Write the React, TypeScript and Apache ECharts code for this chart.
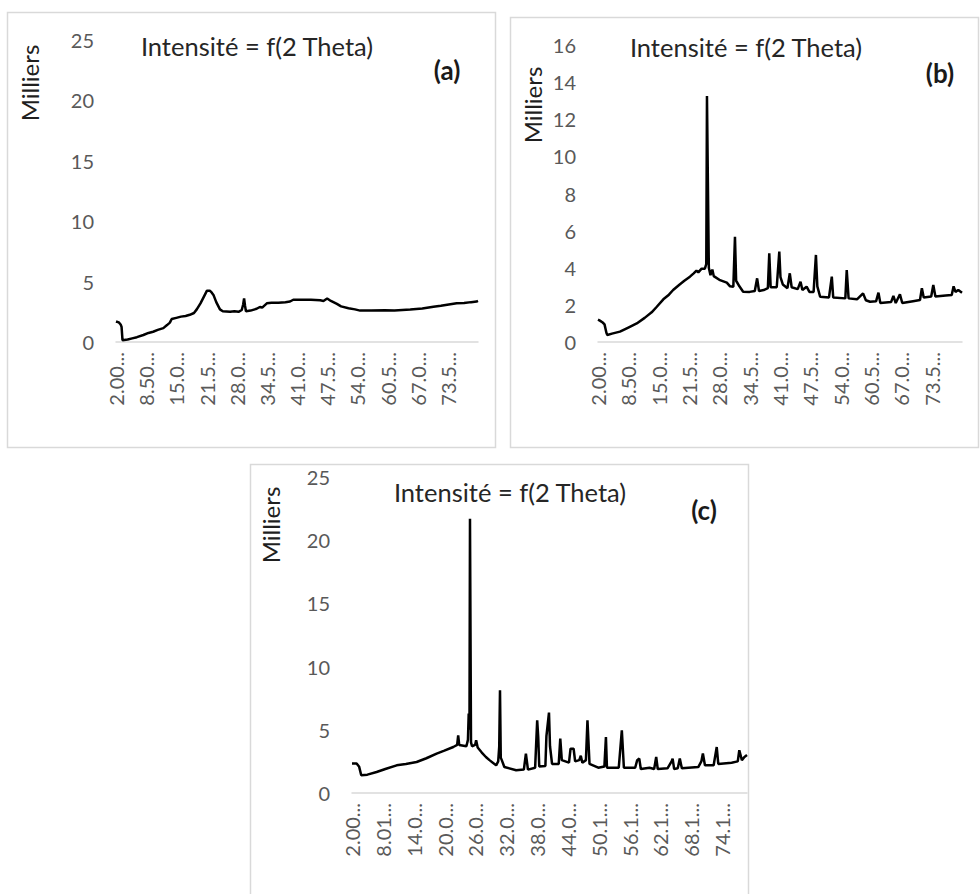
import React, { useEffect, useRef } from "react";
import * as echarts from "echarts";

// 2θ (deg) vs intensity (milliers)
const SERIES_A: [number, number][] = [
  [2.0, 1.7], [2.6, 1.62], [3.0, 1.45], [3.2, 1.25], [3.4, 0.15], [4.5, 0.2], [5.5, 0.3], [6.5, 0.4],
  [7.9, 0.58], [9.0, 0.75], [10.0, 0.85], [11.0, 1.0], [12.2, 1.15], [13.0, 1.4], [13.6, 1.6], [14.0, 1.9],
  [15.0, 2.0], [16.0, 2.1], [17.0, 2.15], [17.9, 2.25], [18.8, 2.4], [19.4, 2.7], [20.2, 3.2], [21.0, 3.8],
  [21.6, 4.25], [22.2, 4.25], [22.6, 4.1], [23.0, 3.9], [23.6, 3.3], [24.4, 2.7], [25.0, 2.55], [26.6, 2.5],
  [27.5, 2.55], [28.4, 2.5], [29.1, 2.65], [29.4, 3.1], [29.6, 3.6], [29.8, 3.0], [30.0, 2.55], [31.0, 2.6],
  [32.3, 2.75], [33.0, 2.9], [33.5, 2.85], [34.5, 3.2], [35.5, 3.25], [37.0, 3.25], [38.5, 3.3], [39.5, 3.35],
  [40.2, 3.5], [42.0, 3.5], [44.0, 3.5], [46.0, 3.45], [46.7, 3.4], [47.5, 3.6], [48.3, 3.4], [49.6, 3.15],
  [50.5, 2.95], [52.1, 2.8], [53.5, 2.7], [54.6, 2.6], [57.0, 2.6], [59.9, 2.62], [62.0, 2.6], [65.4, 2.7],
  [68.0, 2.78], [70.4, 2.92], [72.0, 3.0], [75.4, 3.2], [77.0, 3.22], [78.5, 3.3], [79.7, 3.35], [80.0, 3.4],
];

const SERIES_B: [number, number][] = [
  [2.0, 1.2], [2.4, 1.15], [3.0, 1.05], [3.4, 0.95], [3.8, 0.5], [4.0, 0.38], [5.0, 0.45], [6.7, 0.56],
  [8.5, 0.78], [10.3, 1.0], [12.0, 1.3], [13.5, 1.6], [14.6, 1.9], [16.0, 2.3], [17.2, 2.55], [18.1, 2.8],
  [19.5, 3.1], [20.5, 3.3], [21.7, 3.52], [22.5, 3.7], [23.1, 3.85], [23.5, 3.75], [24.2, 3.95], [24.9, 3.95],
  [25.2, 4.2], [25.35, 13.25], [25.55, 8.6], [25.75, 4.0], [26.1, 3.6], [26.5, 3.9], [26.8, 3.55], [28.0, 3.35],
  [29.6, 3.2], [30.3, 3.0], [31.0, 2.98], [31.35, 5.67], [31.6, 3.3], [32.3, 3.0], [33.1, 2.71], [34.5, 2.7],
  [35.6, 2.75], [36.1, 3.43], [36.5, 2.75], [37.5, 2.8], [38.4, 2.9], [38.7, 4.78], [39.0, 2.95], [40.3, 2.95],
  [40.85, 4.87], [41.1, 3.5], [41.6, 3.1], [42.6, 2.9], [43.1, 3.7], [43.5, 2.95], [44.8, 2.85], [45.4, 3.25],
  [45.8, 2.8], [46.7, 2.98], [47.3, 2.7], [48.2, 2.7], [48.7, 4.69], [49.0, 3.0], [49.6, 2.44], [51.5, 2.4],
  [52.1, 3.52], [52.4, 2.4], [55.0, 2.35], [55.3, 3.88], [55.7, 2.35], [57.5, 2.3], [58.8, 2.62], [59.4, 2.25],
  [60.3, 2.17], [61.6, 2.2], [62.1, 2.66], [62.5, 2.1], [64.8, 2.15], [65.3, 2.48], [65.8, 2.1], [66.7, 2.57],
  [67.2, 2.1], [69.5, 2.2], [71.0, 2.26], [71.4, 2.9], [71.8, 2.4], [73.4, 2.45], [73.85, 3.07], [74.3, 2.45],
  [76.5, 2.5], [77.8, 2.53], [78.2, 3.0], [78.6, 2.7], [79.2, 2.8], [80.0, 2.65],
];

const SERIES_C: [number, number][] = [
  [2.0, 2.33], [2.9, 2.33], [3.4, 2.07], [3.8, 1.4], [5.0, 1.45], [6.8, 1.66], [8.5, 1.9], [10.7, 2.19],
  [12.5, 2.3], [14.6, 2.45], [16.5, 2.75], [18.5, 3.12], [20.0, 3.35], [21.75, 3.64], [22.5, 3.8], [22.7, 4.56],
  [22.9, 3.8], [24.3, 3.7], [24.6, 4.2], [24.75, 6.28], [24.9, 5.0], [25.0, 21.7], [25.2, 4.0], [25.4, 3.7],
  [26.0, 3.8], [26.2, 4.17], [26.5, 3.6], [27.3, 3.2], [28.1, 2.85], [28.8, 2.6], [30.1, 2.19], [30.5, 2.5],
  [30.7, 3.67], [30.85, 8.13], [31.0, 2.8], [31.2, 2.6], [31.7, 2.06], [34.0, 1.8], [35.5, 1.85], [35.9, 3.12],
  [36.3, 1.85], [37.7, 2.0], [38.1, 5.75], [38.3, 4.45], [38.5, 2.1], [39.7, 2.14], [39.9, 4.5], [40.4, 6.36],
  [40.6, 3.7], [41.0, 2.3], [42.3, 2.3], [42.6, 4.3], [42.9, 2.6], [44.3, 2.4], [44.6, 3.5], [45.2, 3.5],
  [45.5, 2.5], [46.3, 2.6], [46.6, 2.95], [46.9, 2.4], [47.6, 2.6], [47.9, 5.75], [48.3, 2.3], [50.0, 2.0],
  [51.2, 2.1], [51.5, 4.43], [51.7, 2.0], [54.0, 2.0], [54.6, 4.96], [55.0, 2.0], [57.2, 2.0], [57.6, 2.6],
  [58.0, 2.72], [58.3, 1.9], [60.0, 2.0], [60.9, 1.9], [61.3, 2.85], [61.6, 1.9], [63.5, 1.95], [64.3, 2.5],
  [64.5, 2.72], [64.8, 1.9], [65.5, 1.95], [65.9, 2.72], [66.3, 1.95], [69.5, 2.05], [70.1, 2.5], [70.4, 3.12],
  [70.8, 2.2], [72.5, 2.2], [73.1, 3.64], [73.4, 2.3], [76.0, 2.4], [77.2, 2.5], [77.5, 3.38], [78.0, 2.6],
  [78.5, 2.85], [79.0, 3.0],
];

const TICKS_AB = [2, 8.5, 15, 21.5, 28, 34.5, 41, 47.5, 54, 60.5, 67, 73.5];
const LABELS_AB = ["2.00...", "8.50...", "15.0...", "21.5...", "28.0...", "34.5...", "41.0...", "47.5...", "54.0...", "60.5...", "67.0...", "73.5..."];
const TICKS_C = [2.0, 8.01, 14.03, 20.04, 26.05, 32.06, 38.08, 44.09, 50.1, 56.11, 62.13, 68.14, 74.15];
const LABELS_C = ["2.00...", "8.01...", "14.0...", "20.0...", "26.0...", "32.0...", "38.0...", "44.0...", "50.1...", "56.1...", "62.1...", "68.1...", "74.1..."];

const TITLE = "Intensité = f(2 Theta)";
const UNIT = "Milliers";
const PANELS = ["(a)", "(b)", "(c)"];

const FONT = "Lato, 'Noto Sans', sans-serif";

export default function App() {
  const ref = useRef<HTMLDivElement>(null);
  useEffect(() => {
    if (!ref.current) return;
    const chart = echarts.init(ref.current, null, { renderer: "svg" });

    const xAxis = (grid: number, ticks: number[], labels: string[], max: number) => ({
      type: "value",
      gridIndex: grid,
      min: 2,
      max,
      axisLine: { show: true, lineStyle: { color: "#d9d9d9", width: 1.5 } },
      axisTick: { show: false },
      splitLine: { show: false },
      axisLabel: {
        rotate: 90,
        margin: 10,
        color: "#595959",
        fontSize: 20,
        fontFamily: FONT,
        customValues: ticks,
        formatter: (v: number) => {
          const i = ticks.findIndex((t) => Math.abs(t - v) < 1e-6);
          return i >= 0 ? labels[i] : "";
        },
      },
    });
    const yAxis = (grid: number, max: number, interval: number) => ({
      type: "value",
      gridIndex: grid,
      min: 0,
      max,
      interval,
      axisLine: { show: false },
      axisTick: { show: false },
      splitLine: { show: false },
      axisLabel: { color: "#595959", fontSize: 20, fontFamily: FONT, margin: 22 },
    });
    const line = (i: number, data: [number, number][]) => ({
      type: "line",
      xAxisIndex: i,
      yAxisIndex: i,
      data,
      showSymbol: false,
      lineStyle: { color: "#000", width: 2.5 },
      itemStyle: { color: "#000" },
    });
    const text = (x: number, y: number, t: string, font: string, fill: string, rotation = 0) => ({
      type: "text",
      x,
      y,
      rotation,
      style: {
        text: t,
        font,
        fill,
        align: "center",
        verticalAlign: "middle",
        textAlign: "center",
        textVerticalAlign: "middle",
      },
    });
    const box = (x1: number, y1: number, x2: number, y2: number) => ({
      type: "rect",
      shape: { x: x1, y: y1, width: x2 - x1, height: y2 - y1 },
      style: { fill: "none", stroke: "#d9d9d9", lineWidth: 1.5 },
      z: -1,
    });

    chart.setOption({
      animation: false,
      backgroundColor: "#fff",
      grid: [
        { left: 116, top: 40, width: 362, height: 302 },
        { left: 598, top: 45, width: 364, height: 297 },
        { left: 352, top: 477, width: 395, height: 316 },
      ],
      xAxis: [
        xAxis(0, TICKS_AB, LABELS_AB, 80),
        xAxis(1, TICKS_AB, LABELS_AB, 80),
        xAxis(2, TICKS_C, LABELS_C, 79),
      ],
      yAxis: [yAxis(0, 25, 5), yAxis(1, 16, 2), yAxis(2, 25, 5)],
      series: [line(0, SERIES_A), line(1, SERIES_B), line(2, SERIES_C)],
      graphic: [
        box(7.5, 12.5, 495.5, 447.5),
        box(510.5, 17.5, 978.5, 447.5),
        box(250.5, 464.5, 748.5, 900),
        text(257, 46, TITLE, `25.5px ${FONT}`, "#262626"),
        text(746, 47, TITLE, `25.5px ${FONT}`, "#262626"),
        text(510, 492, TITLE, `25.5px ${FONT}`, "#262626"),
        text(447, 70, PANELS[0], `bold 26px ${FONT}`, "#1a1a1a"),
        text(940, 73, PANELS[1], `bold 26px ${FONT}`, "#1a1a1a"),
        text(704, 510, PANELS[2], `bold 26px ${FONT}`, "#1a1a1a"),
        text(29, 83, UNIT, `24px ${FONT}`, "#1f1f1f", Math.PI / 2),
        text(532, 105, UNIT, `24px ${FONT}`, "#1f1f1f", Math.PI / 2),
        text(270, 525, UNIT, `24px ${FONT}`, "#1f1f1f", Math.PI / 2),
      ],
    });
    return () => chart.dispose();
  }, []);
  return (
    <div
      ref={ref}
      style={{ position: "absolute", left: 0, top: 0, width: 980, height: 894 }}
    />
  );
}
